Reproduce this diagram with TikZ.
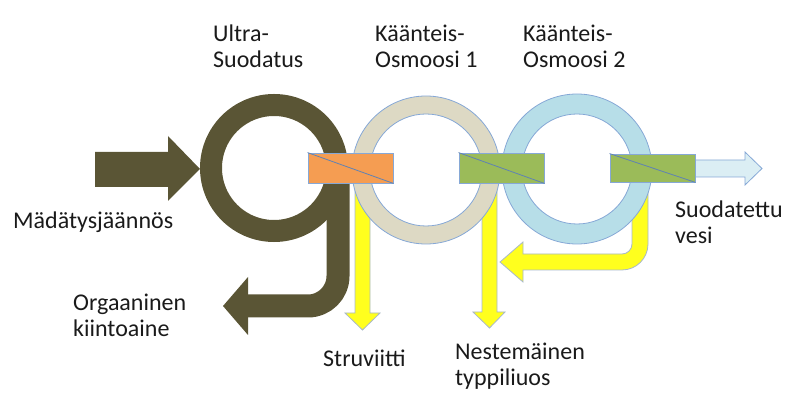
\documentclass[tikz,border=0pt]{standalone}
\usepackage{fontspec}
\setmainfont{Carlito}
\definecolor{olivec}{HTML}{5A5535}
\definecolor{ringgray}{HTML}{DDD9C4}
\definecolor{ringblue}{HTML}{B7DEE8}
\definecolor{ringline}{HTML}{86A8D6}
\definecolor{diagline}{HTML}{5F82B4}
\definecolor{boxorange}{HTML}{F59D52}
\definecolor{boxgreen}{HTML}{9BBB59}
\definecolor{yel}{HTML}{FFFF1E}
\definecolor{yelline}{HTML}{A8B8CC}
\definecolor{outblue}{HTML}{DBEEF4}
\definecolor{txt}{HTML}{1A1A1A}
\begin{document}
\begin{tikzpicture}[x=1pt,y=-1pt,
  lbl/.style={anchor=base west,inner sep=0pt,align=left,text=txt,font=\fontsize{24}{26}\selectfont},
  membrane/.style={draw=ringline,line width=0.8pt,minimum width=85pt,minimum height=30pt,inner sep=0pt},
  yarrow/.style={fill=yel,draw=yelline,line width=0.8pt,line join=miter},
  ring/.style={draw=ringline,line width=0.8pt,even odd rule}]
\useasboundingbox (0,0) rectangle (793,403);
% yellow arrows (behind rings)
\draw[yarrow] (355,176) -- (355,313) -- (345,313) -- (362.5,330) -- (380,313) -- (370,313) -- (370,176) -- cycle;
\draw[yarrow] (482,176) -- (482,312) -- (473,312) -- (489.5,328) -- (505,312) -- (497,312) -- (497,176) -- cycle;
\draw[yarrow] (632,176) -- (648,176) -- (648,244) arc[start angle=0,end angle=90,radius=26] -- (523,270) -- (523,282) -- (500,262) -- (523,242) -- (523,254) -- (622,254) arc[start angle=90,end angle=0,radius=10] -- cycle;
% ultrafiltration (olive)
\coordinate (uc) at (274,168);
\draw[olivec,line width=22pt] (uc) circle[radius=63];
\draw[olivec,line width=23pt,rounded corners=30pt] (338,168) -- (338,306) -- (246,306);
\fill[olivec] (248,277) -- (223,306) -- (248,335) -- cycle;
\fill[olivec] (95,152) -- (168,152) -- (168,136) -- (200,169) -- (168,201) -- (168,187) -- (95,187) -- cycle;
% reverse osmosis rings
\path[ring,fill=ringgray] (426,170) circle[radius=74] (426,170) circle[radius=56];
\path[ring,fill=ringblue] (577,169) circle[radius=75] (577,169) circle[radius=55];
% output arrow
\draw[fill=outblue,draw=ringline,line width=0.8pt] (690,160) -- (745,160) -- (745,152) -- (762,168.5) -- (745,185) -- (745,177) -- (690,177) -- cycle;
% membranes
\node[membrane,fill=boxorange] (uf) at (350.5,168) {};
\node[membrane,fill=boxgreen] (ro1) at (501.5,168) {};
\node[membrane,fill=boxgreen,minimum height=28pt] (ro2) at (652.5,168) {};
\draw[diagline,line width=0.8pt] (uf.north west) -- (uf.south east);
\draw[diagline,line width=0.8pt] (ro1.north west) -- (ro1.south east);
\draw[diagline,line width=0.8pt] (ro2.north west) -- (ro2.south east);
% labels (base anchor = baseline of last line)
\node[lbl] (t1) at (213,68) {Ultra-\\Suodatus};
\node[lbl] (t2) at (375,68) {Käänteis-\\Osmoosi 1};
\node[lbl] (t3) at (523,68) {Käänteis-\\Osmoosi 2};
\node[lbl] (t4) at (13,229) {Mädätysjäännös};
\node[lbl] (t5) at (73,337) {Orgaaninen\\kiintoaine};
\node[lbl] (t6) at (323,367) {Struviitti};
\node[lbl] (t7) at (455,386) {Nestemäinen\\typpiliuos};
\node[lbl] (t8) at (675,244) {Suodatettu\\vesi};
\end{tikzpicture}
\end{document}
